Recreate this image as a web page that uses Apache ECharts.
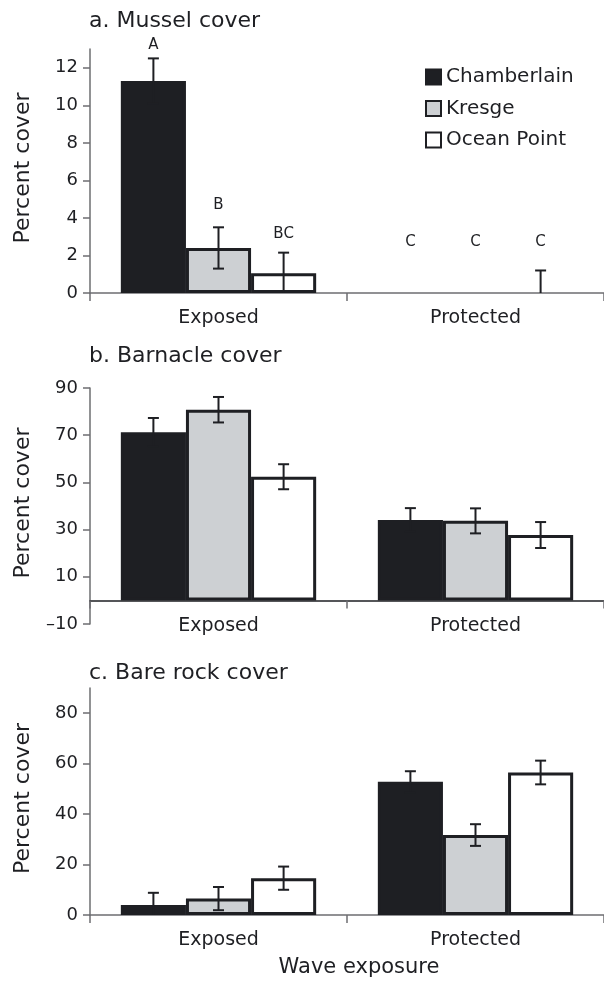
<!DOCTYPE html>
<html>
<head>
<meta charset="utf-8">
<style>
  html, body { margin: 0; padding: 0; background: #fff; }
  #chart { width: 604px; height: 983px; }
</style>
<script src="https://cdn.jsdelivr.net/npm/echarts@6/dist/echarts.min.js"></script>
</head>
<body>
<div id="chart"></div>
<script>
const sites = ['Chamberlain', 'Kresge', 'Ocean Point']
const exposure = ['Exposed', 'Protected']

// one row per site: [Exposed, Protected]
const musselMean = [[11.3, 0], [2.4, 0], [1.05, 0]]
const musselErr = [[1.2, 0], [1.1, 0], [1.1, 1.2]]
const musselLetters = [['A', 'C'], ['B', 'C'], ['BC', 'C']]
const musselLetterY = [[13.2, 2.7], [4.7, 2.7], [3.15, 2.7]]

const barnacleMean = [[71.3, 34.1], [80.8, 33.7], [52.4, 27.7]]
const barnacleErr = [[6, 5], [5.4, 5.3], [5.3, 5.5]]

const rockMean = [[4.0, 52.8], [6.5, 31.7], [14.6, 56.5]]
const rockErr = [[4.8, 4.2], [4.6, 4.3], [4.6, 4.7]]

const musselTicks = [0, 2, 4, 6, 8, 10, 12]
const barnacleTicks = [-10, 10, 30, 50, 70, 90]
const rockTicks = [0, 20, 40, 60, 80]

const font = 'DejaVu Sans'
const ink = '#1e1f23'
const axisGray = '#6d6e71'
const fills = ['#1e1f23', '#cdd0d3', '#ffffff']
const CAT_GAP = 0.24

const grids = [
  { left: 90, top: 49, width: 524, height: 244 },
  { left: 90, top: 388, width: 524, height: 236 },
  { left: 90, top: 688, width: 524, height: 227 }
]

// yMin < 0: lift the category axis up to the zero line
function xAxisFor(grid, name, lineColor, yMin, yMax) {
  const lift = yMin < 0 ? -grids[grid].height * (-yMin) / (yMax - yMin) : 0
  return {
    type: 'category',
    gridIndex: grid,
    data: exposure,
    offset: lift,
    name: name,
    nameLocation: 'middle',
    nameGap: 42,
    nameTextStyle: { fontFamily: font, fontSize: 21, color: ink, padding: [0, 0, 0, 24] },
    axisLine: { show: true, onZero: false, lineStyle: { color: lineColor, width: 1.5 } },
    axisTick: { show: true, length: 8, lineStyle: { color: axisGray, width: 1.5 } },
    axisLabel: { margin: 16, fontFamily: font, fontSize: 19, color: ink },
    splitLine: { show: false }
  }
}

function yAxisFor(grid, min, max, ticks) {
  return {
    type: 'value',
    gridIndex: grid,
    min: min,
    max: max,
    name: 'Percent cover',
    nameLocation: 'middle',
    nameGap: 56,
    nameTextStyle: { fontFamily: font, fontSize: 22, color: ink, padding: [0, 0, 0, 6] },
    axisLine: { show: true, lineStyle: { color: axisGray, width: 1.5 } },
    axisTick: { show: true, length: 7, customValues: ticks, lineStyle: { color: axisGray, width: 1.5 } },
    axisLabel: {
      customValues: ticks,
      margin: 12,
      fontFamily: font,
      fontSize: 18,
      color: ink,
      formatter: v => String(v).replace('-', '\u2013')
    },
    splitLine: { show: false }
  }
}

function barSeries(grid, means, site) {
  return {
    type: 'bar',
    name: sites[site],
    xAxisIndex: grid,
    yAxisIndex: grid,
    barGap: '0%',
    barCategoryGap: (CAT_GAP * 100) + '%',
    itemStyle: { color: fills[site], borderColor: ink, borderWidth: 3 },
    emphasis: { disabled: true },
    data: means[site].map(v => v === 0 ? { value: 0, itemStyle: { borderWidth: 0 } } : v)
  }
}

// bar x position inside a category band
function barX(api, cat, site) {
  const band = api.size([1, 0])[0]
  const w = band * (1 - CAT_GAP) / sites.length
  return api.coord([cat, 0])[0] + (site - 1) * w
}

function errorSeries(grid, means, errs, site) {
  return {
    type: 'custom',
    xAxisIndex: grid,
    yAxisIndex: grid,
    z: 5,
    silent: true,
    data: exposure.map((c, i) => [i, means[site][i], errs[site][i]]),
    renderItem(params, api) {
      const err = api.value(2)
      if (!err) return null
      const x = barX(api, api.value(0), site)
      const m = api.value(1)
      const top = api.coord([api.value(0), m + err])[1]
      const bot = api.coord([api.value(0), Math.max(m - err, 0)])[1]
      const style = { stroke: ink, lineWidth: 2 }
      const cap = 5.5
      const kids = [
        { type: 'line', shape: { x1: x, y1: top, x2: x, y2: bot }, style },
        { type: 'line', shape: { x1: x - cap, y1: top, x2: x + cap, y2: top }, style }
      ]
      if (m - err > 0) {
        kids.push({ type: 'line', shape: { x1: x - cap, y1: bot, x2: x + cap, y2: bot }, style })
      }
      return { type: 'group', children: kids }
    }
  }
}

function letterSeries(site) {
  return {
    type: 'custom',
    xAxisIndex: 0,
    yAxisIndex: 0,
    z: 6,
    silent: true,
    clip: false,
    data: exposure.map((c, i) => [i, musselLetterY[site][i]]),
    renderItem(params, api) {
      const x = barX(api, api.value(0), site)
      const y = api.coord([api.value(0), api.value(1)])[1]
      return {
        type: 'text',
        style: {
          x: x, y: y,
          text: musselLetters[site][params.dataIndex],
          fill: ink,
          font: '15px "DejaVu Sans"',
          align: 'center',
          verticalAlign: 'middle'
        }
      }
    }
  }
}

const series = []
const panels = [[musselMean, musselErr], [barnacleMean, barnacleErr], [rockMean, rockErr]]
panels.forEach(([means, errs], g) => {
  sites.forEach((s, i) => series.push(barSeries(g, means, i)))
  sites.forEach((s, i) => series.push(errorSeries(g, means, errs, i)))
})
sites.forEach((s, i) => series.push(letterSeries(i)))

const titleStyle = { fontFamily: font, fontSize: 22, fontWeight: 'normal', color: ink }

const chart = echarts.init(document.getElementById('chart'))
chart.setOption({
  animation: false,
  backgroundColor: '#fff',
  title: [
    { text: 'a. Mussel cover', left: 89, top: 10, padding: 0, textStyle: titleStyle },
    { text: 'b. Barnacle cover', left: 89, top: 345, padding: 0, textStyle: titleStyle },
    { text: 'c. Bare rock cover', left: 89, top: 662, padding: 0, textStyle: titleStyle }
  ],
  legend: {
    data: sites,
    orient: 'vertical',
    left: 425,
    top: 67,
    padding: 0,
    icon: 'rect',
    itemWidth: 15,
    itemHeight: 15,
    itemGap: 11.5,
    selectedMode: false,
    textStyle: { fontFamily: font, fontSize: 20, color: ink }
  },
  grid: grids,
  xAxis: [
    xAxisFor(0, '', axisGray, 0, 13),
    xAxisFor(1, '', ink, -10, 90),
    xAxisFor(2, 'Wave exposure', axisGray, 0, 90)
  ],
  yAxis: [
    yAxisFor(0, 0, 13, musselTicks),
    yAxisFor(1, -10, 90, barnacleTicks),
    yAxisFor(2, 0, 90, rockTicks)
  ],
  series: series
})
</script>
</body>
</html>
